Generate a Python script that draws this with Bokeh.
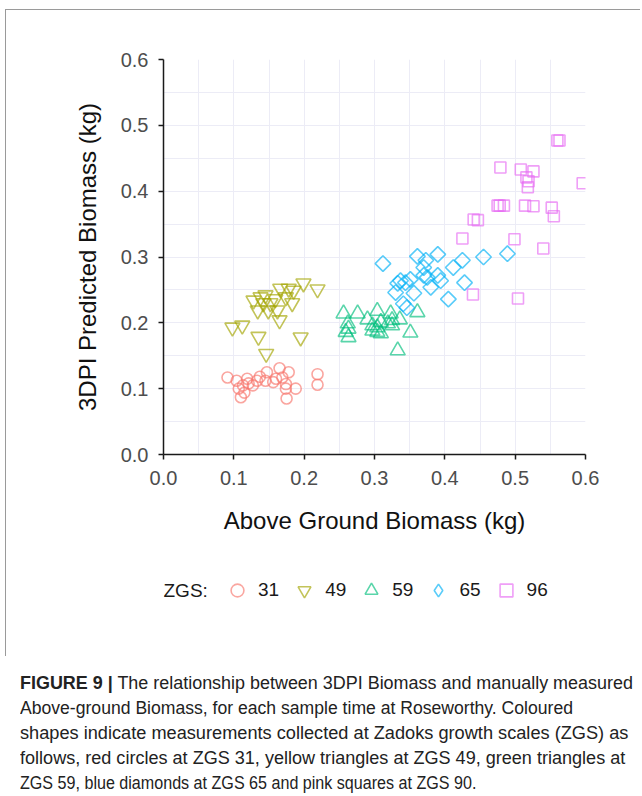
import math
from bokeh.plotting import figure
from bokeh.layouts import column
from bokeh.models import (Label, Legend, LegendItem, FixedTicker, PrintfTickFormatter,
                          Range1d, Div)
from bokeh.embed import file_html
from bokeh.resources import INLINE

# ---------------- data ----------------
zgs31_x = [0.091, 0.104, 0.107, 0.110, 0.115, 0.119, 0.127, 0.137, 0.147, 0.145, 0.156, 0.165,
           0.178, 0.169, 0.174, 0.174, 0.175, 0.188, 0.219, 0.219, 0.121, 0.113, 0.133, 0.160]
zgs31_y = [0.117, 0.112, 0.100, 0.087, 0.094, 0.115, 0.105, 0.118, 0.125, 0.112, 0.110, 0.131,
           0.125, 0.117, 0.107, 0.100, 0.085, 0.100, 0.122, 0.106, 0.108, 0.105, 0.112, 0.115]

zgs49_x = [0.098, 0.112, 0.135, 0.146, 0.195, 0.219, 0.199, 0.185, 0.178, 0.166, 0.183,
           0.165, 0.162, 0.149, 0.159, 0.152, 0.145, 0.138, 0.128, 0.134, 0.142, 0.174]
zgs49_y = [0.193, 0.196, 0.179, 0.153, 0.178, 0.251, 0.260, 0.249, 0.252, 0.252, 0.230,
           0.204, 0.219, 0.219, 0.236, 0.230, 0.242, 0.239, 0.234, 0.219, 0.230, 0.239]

zgs59_x = [0.256, 0.276, 0.304, 0.290, 0.323, 0.336, 0.361, 0.262, 0.263, 0.297, 0.304,
           0.309, 0.319, 0.325, 0.297, 0.304, 0.325, 0.309, 0.259, 0.263, 0.351, 0.333]
zgs59_y = [0.214, 0.214, 0.218, 0.205, 0.214, 0.205, 0.216, 0.199, 0.191, 0.196, 0.193,
           0.201, 0.199, 0.196, 0.188, 0.186, 0.204, 0.184, 0.186, 0.178, 0.185, 0.158]

zgs65_x = [0.312, 0.361, 0.390, 0.373, 0.370, 0.412, 0.425, 0.455, 0.489, 0.337, 0.344, 0.333,
           0.351, 0.370, 0.375, 0.390, 0.394, 0.380, 0.330, 0.356, 0.428, 0.405, 0.341, 0.346]
zgs65_y = [0.290, 0.301, 0.304, 0.295, 0.284, 0.284, 0.295, 0.300, 0.305, 0.264, 0.261, 0.260,
           0.266, 0.272, 0.269, 0.272, 0.264, 0.254, 0.246, 0.245, 0.261, 0.236, 0.229, 0.223]

zgs96_x = [0.563, 0.560, 0.479, 0.508, 0.526, 0.516, 0.519, 0.518, 0.596, 0.475, 0.478, 0.484,
           0.514, 0.526, 0.552, 0.555, 0.441, 0.447, 0.425, 0.499, 0.540, 0.440, 0.504]
zgs96_y = [0.477, 0.477, 0.436, 0.433, 0.430, 0.421, 0.415, 0.406, 0.412, 0.378, 0.378, 0.378,
           0.378, 0.377, 0.375, 0.362, 0.357, 0.356, 0.328, 0.327, 0.313, 0.243, 0.237]

series_labels = ["31", "49", "59", "65", "96"]
major_ticks = [0.0, 0.1, 0.2, 0.3, 0.4, 0.5, 0.6]
minor_ticks = [0.05, 0.15, 0.25, 0.35, 0.45, 0.55]

x_title = "Above Ground Biomass (kg)"
y_title = "3DPI Predicted Biomass (kg)"
legend_title = "ZGS:"
caption_bold = "FIGURE 9 |"
caption_lines = [
    "The relationship between 3DPI Biomass and manually measured",
    "Above-ground Biomass, for each sample time at Roseworthy. Coloured",
    "shapes indicate measurements collected at Zadoks growth scales (ZGS) as",
    "follows, red circles at ZGS 31, yellow triangles at ZGS 49, green triangles at",
    "ZGS 59, blue diamonds at ZGS 65 and pink squares at ZGS 90.",
]

FONT = "Liberation Sans"
W = 640
H1 = 560   # chart
H2 = 100   # legend strip
BOX = "#9a9a9a"

# ---------------- chart ----------------
p = figure(width=W, height=H1, output_backend="svg", toolbar_location=None,
           x_range=Range1d(0, 0.6), y_range=Range1d(0, 0.6),
           min_border_left=163, min_border_right=W - 585, min_border_top=59,
           min_border_bottom=H1 - 454)
p.outline_line_color = None
p.border_fill_color = None
p.background_fill_color = "white"
p.styles = {
    "background-image": f"linear-gradient({BOX},{BOX}), linear-gradient({BOX},{BOX})",
    "background-repeat": "no-repeat",
    "background-size": f"1px {H1 - 9}px, {W - 5}px 1px",
    "background-position": "5px 9px, 5px 9px",
}

ticker = FixedTicker(ticks=major_ticks, minor_ticks=minor_ticks)
for ax in (p.xaxis[0], p.yaxis[0]):
    ax.ticker = ticker
    ax.formatter = PrintfTickFormatter(format="%.1f")
    ax.axis_line_color = "#1a1a1a"
    ax.axis_line_width = 1.5
    ax.major_tick_line_color = "#1a1a1a"
    ax.major_tick_line_width = 1.5
    ax.major_tick_out = 5
    ax.major_tick_in = 0
    ax.minor_tick_line_color = None
    ax.major_label_text_font = FONT
    ax.major_label_text_font_size = "20px"
    ax.major_label_text_color = "#4d4d4d"
    ax.axis_label_text_font = FONT
    ax.axis_label_text_font_size = "24px"
    ax.axis_label_text_font_style = "normal"
    ax.axis_label_text_color = "#111111"

p.xaxis.axis_label = x_title
p.yaxis.axis_label = y_title
p.xaxis.major_label_standoff = 11
p.yaxis.major_label_standoff = 10
p.xaxis.axis_label_standoff = 19
p.yaxis.axis_label_standoff = 17

for g in (p.xgrid[0], p.ygrid[0]):
    g.ticker = ticker
    g.grid_line_color = "#ececf6"
    g.grid_line_width = 1
    g.minor_grid_line_color = "#ececf6"
    g.minor_grid_line_width = 1

colors = ["#F8766D", "#A3A500", "#00BF7D", "#00B0F6", "#E76BF3"]
specs = [
    (zgs31_x, zgs31_y, "circle", 11, 0.0),
    (zgs49_x, zgs49_y, "inverted_triangle", 15, 0.0),
    (zgs59_x, zgs59_y, "triangle", 15, 0.0),
    (zgs65_x, zgs65_y, "square", 11, math.pi / 4),
    (zgs96_x, zgs96_y, "square", 11, 0.0),
]
# legend keys cannot be rotated, so the diamond key uses Bokeh's diamond marker
key_markers = ["circle", "inverted_triangle", "triangle", "diamond", "square"]
LW, LA = 1.6, 0.65
for (xs, ys, mk, sz, ang), col in zip(specs, colors):
    p.scatter(xs, ys, marker=mk, size=sz, angle=ang, fill_color=None,
              line_color=col, line_width=LW, line_alpha=LA)

# ---------------- legend strip (frame is aligned with the chart frame) ----------------
FL, FR = 163, 585
q = figure(width=W, height=H2, output_backend="svg", toolbar_location=None,
           x_range=Range1d(FL, FR), y_range=Range1d(H1 + H2, H1),
           x_axis_type=None, y_axis_type=None, min_border=0)
q.outline_line_color = None
q.border_fill_color = None
q.background_fill_color = None
q.xgrid.visible = False
q.ygrid.visible = False
q.styles = {
    "background-image": f"linear-gradient({BOX},{BOX})",
    "background-repeat": "no-repeat",
    "background-size": f"1px {656 - H1}px",
    "background-position": "5px 0px",
}

keys = []
for (xs, ys, mk, sz, ang), col, km in zip(specs, colors, key_markers):
    r = q.scatter(xs, ys, marker=km, size=sz, fill_color=None,
                  line_color=col, line_width=LW, line_alpha=LA, visible=False)
    keys.append(r)

legend_cy = 590
GW = 32
legend = Legend(items=[LegendItem(label=l, renderers=[r], index=0) for l, r in zip(series_labels, keys)],
                orientation="horizontal",
                location=(237 - GW // 2 - FL, H1 + H2 - legend_cy - GW // 2),
                glyph_width=GW, glyph_height=GW, label_standoff=5, spacing=9,
                padding=0, margin=0, border_line_color=None, background_fill_alpha=0,
                inactive_fill_alpha=0, click_policy="none",
                label_text_font=FONT, label_text_font_size="19px",
                label_text_color="#1a1a1a", label_text_baseline="middle")
q.add_layout(legend, "center")
q.add_layout(Label(x=FL, y=legend_cy, text=legend_title, text_font=FONT,
                   text_font_size="19px", text_color="#1a1a1a", text_baseline="middle"))

# ---------------- caption ----------------
line_fit = [1.025, 1.005, 1.039, 1.032, 0.92]   # horizontal fit of each caption line
rows = []
for i, (line, f) in enumerate(zip(caption_lines, line_fit)):
    body = ("<b>" + caption_bold + "</b> " + line) if i == 0 else line
    rows.append(f'<div style="white-space:nowrap;height:25px;line-height:25px;'
                f'transform:scaleX({f});transform-origin:0 50%;">{body}</div>')
cap = Div(text="".join(rows), width=W - 20, height=124, margin=(11, 0, 0, 20),
          styles={"font-family": FONT, "font-size": "17.5px", "color": "#222222"})

layout = column(p, q, cap, spacing=0)
open("out.html", "w").write(file_html(layout, INLINE))
